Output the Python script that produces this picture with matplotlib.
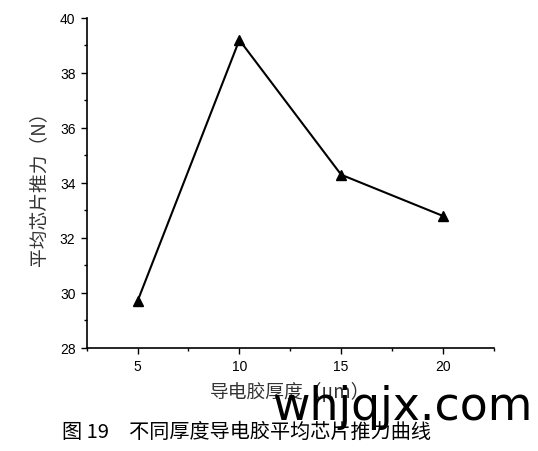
import matplotlib
matplotlib.use("Agg")
import matplotlib.pyplot as plt
from matplotlib.ticker import MultipleLocator

plt.rcParams['font.family'] = ['Liberation Sans', 'Noto Sans CJK SC', 'DejaVu Sans']

# 导电胶厚度 (um) vs 平均芯片推力 (N)
thickness = [5, 10, 15, 20]
push_force = [29.7, 39.2, 34.3, 32.8]

xticks = [5, 10, 15, 20]
yticks = [28, 30, 32, 34, 36, 38, 40]

fig = plt.figure(figsize=(5.38, 4.52), dpi=100)
ax = fig.add_axes([0.161, 0.228, 0.757, 0.730])

ax.plot(thickness, push_force, color='black', lw=1.5,
        marker='^', markersize=7, markerfacecolor='black')

ax.set_xlim(2.5, 22.5)
ax.set_ylim(28, 40)
ax.set_xticks(xticks)
ax.set_yticks(yticks)
ax.xaxis.set_minor_locator(MultipleLocator(2.5))
ax.yaxis.set_minor_locator(MultipleLocator(1))
ax.tick_params(which='major', direction='out', length=4.5, width=1, labelsize=10)
ax.tick_params(which='minor', direction='out', length=2.5, width=1)

for s in ['top', 'right']:
    ax.spines[s].set_visible(False)
for s in ['left', 'bottom']:
    ax.spines[s].set_linewidth(1.2)

cjk = ['Noto Sans CJK SC', 'DejaVu Sans']
ax.set_xlabel('导电胶厚度（μm）', fontsize=13.5, family=cjk, color='#333333', labelpad=6)
ax.set_ylabel('平均芯片推力（N）', fontsize=13.5, family=cjk, color='#333333', labelpad=8)

fig.text(0.115, 0.044, '图 19　不同厚度导电胶平均芯片推力曲线', fontsize=14.5,
         family=cjk, va='center', ha='left')
fig.text(0.505, 0.071, 'whjqjx.com', fontsize=33, family='DejaVu Sans',
         va='baseline', ha='left', color='black')

fig.savefig('out.png', dpi=100)
